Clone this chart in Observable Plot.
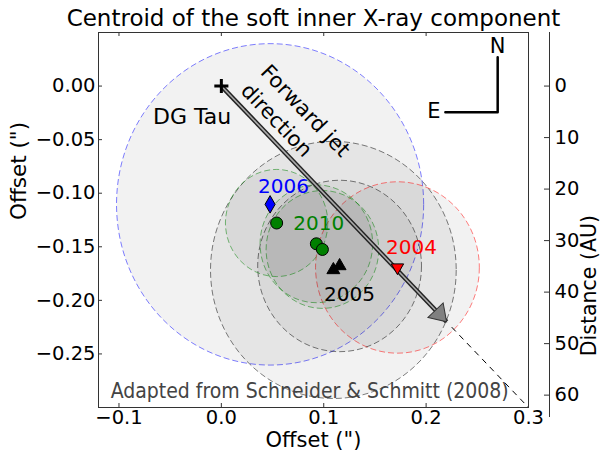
<!DOCTYPE html>
<html><head><meta charset="utf-8">
<script src="https://cdn.jsdelivr.net/npm/d3@7"></script>
<script src="https://cdn.jsdelivr.net/npm/@observablehq/plot@0.6"></script>
<style>body{margin:0;background:#fff;} #chart{width:603px;height:452px;}</style>
</head><body><div id="chart"></div>
<script>
// ---- text ----
const titleText = "Centroid of the soft inner X-ray component";
const xLabel = 'Offset (")';
const yLabel = 'Offset (")';
const y2Label = "Distance (AU)";
const creditText = "Adapted from Schneider & Schmitt (2008)";

// ---- ticks ----
const xTicks = [-0.1, 0, 0.1, 0.2, 0.3];
const yTicks = [0, -0.05, -0.10, -0.15, -0.20, -0.25];
const auTicks = [0, 10, 20, 30, 40, 50, 60];
const auPerArcsec = 208;

// ---- observations (centroid + uncertainty radius, arcsec) ----
const obsYear = ["2004", "2005", "2005", "2006", "2010", "2010", "2010"];
const obsX    = [0.172, 0.1094, 0.1155, 0.0476, 0.054, 0.0928, 0.0987];
const obsY    = [-0.1693, -0.1716, -0.1679, -0.1104, -0.1278, -0.1472, -0.1525];
const obsErr  = [0.08, 0.12, 0.08, 0.15, 0.05, 0.055, 0.055];
const yearColor = {"2004": "red", "2005": "black", "2006": "blue", "2010": "green"};

// ---- year labels ----
const labelYear = ["2004", "2005", "2006", "2010"];
const labelX = [0.1857, 0.1251, 0.0607, 0.0951];
const labelY = [-0.1512, -0.1948, -0.094, -0.1288];

// ---- star & jet ----
const starName = ["DG Tau"];
const starX = [0], starY = [0];
const starLabelX = [-0.0285], starLabelY = [-0.0287];
const jetStart = [0, 0];
const jetEnd = [0.22, -0.22];
const jetExtStart = [0.225, -0.225];
const jetExtEnd = [0.3, -0.3];
const jetText = ["Forward jet\ndirection"];
const jetTextX = [0.0338], jetTextY = [0.0091];

// ---- compass ----
const compassX = [0.2188, 0.2699, 0.2699];
const compassY = [-0.0244, -0.0244, 0.027];
const compassLabel = ["N", "E"];
const compassLabelX = [0.2699, 0.2075];
const compassLabelY = [0.0367, -0.0232];

// ---- layout ----
const W = 603, H = 452, mL = 98, mR = 75, mT = 32, mB = 45;
const xDomain = [-0.12, 0.3], yDomain = [-0.3, 0.05];
const frameW = W - mL - mR, frameH = H - mT - mB;
const kx = frameW / (xDomain[1] - xDomain[0]);
const ky = frameH / (yDomain[1] - yDomain[0]);
const aspect = ky / kx;
const jetAngle = Math.atan2(-(jetEnd[1] - jetStart[1]) * ky, (jetEnd[0] - jetStart[0]) * kx) * 180 / Math.PI;
const FONT = "DejaVu Sans";

// ellipse symbol (circle in data units, axes have slightly different px/unit)
const K = 0.5522847498;
const ellipseSymbol = {
  draw(ctx, size) {
    const rx = Math.sqrt(size / Math.PI), ry = rx * aspect;
    ctx.moveTo(rx, 0);
    ctx.bezierCurveTo(rx, ry * K, rx * K, ry, 0, ry);
    ctx.bezierCurveTo(-rx * K, ry, -rx, ry * K, -rx, 0);
    ctx.bezierCurveTo(-rx, -ry * K, -rx * K, -ry, 0, -ry);
    ctx.bezierCurveTo(rx * K, -ry, rx, -ry * K, rx, 0);
    ctx.closePath();
  }
};
// arrow head symbol with tip at origin, pointing +x
const headSymbol = {
  draw(ctx, size) {
    const s = Math.sqrt(size / Math.PI);
    ctx.moveTo(0, 0);
    ctx.lineTo(-1.6 * s, -1.05 * s);
    ctx.lineTo(-1.6 * s, 1.05 * s);
    ctx.closePath();
  }
};

const obsIdx = obsYear.map((_, i) => i);
const byYear = y => obsIdx.filter(i => obsYear[i] === y);

const chart = Plot.plot({
  width: W, height: H,
  marginLeft: mL, marginRight: mR, marginTop: mT, marginBottom: mB,
  x: {domain: xDomain},
  y: {domain: yDomain},
  r: {type: "linear", domain: [0, 1], range: [0, kx]},
  color: {type: "identity"},
  style: {fontFamily: FONT, fontSize: "19.5px", background: "white", color: "black"},
  marks: [
    // uncertainty circles
    Plot.dot(obsIdx, {
      x: i => obsX[i], y: i => obsY[i], r: i => obsErr[i],
      symbol: ellipseSymbol, fill: "black", fillOpacity: 0.05,
      stroke: i => yearColor[obsYear[i]], strokeOpacity: 0.5, strokeWidth: 1,
      strokeDasharray: "6,3", clip: true
    }),
    // jet extension (dashed)
    Plot.link([0], {x1: () => jetExtStart[0], y1: () => jetExtStart[1], x2: () => jetExtEnd[0], y2: () => jetExtEnd[1],
      stroke: "black", strokeWidth: 1, strokeDasharray: "6,5", clip: true}),
    // jet arrow shaft
    Plot.link([0], {x1: () => jetStart[0], y1: () => jetStart[1], x2: () => jetEnd[0], y2: () => jetEnd[1],
      stroke: "#222", strokeWidth: 4.5}),
    Plot.link([0], {x1: () => jetStart[0], y1: () => jetStart[1], x2: () => jetEnd[0], y2: () => jetEnd[1],
      stroke: "#aaa", strokeWidth: 1.6}),
    Plot.dot([0], {x: () => jetEnd[0], y: () => jetEnd[1], symbol: headSymbol, r: 10,
      fill: "#808080", stroke: "#333", strokeWidth: 1, rotate: jetAngle}),
    // DG Tau
    Plot.dot([0], {x: () => starX[0], y: () => starY[0], symbol: "plus", r: 4.6, stroke: "black", strokeWidth: 3}),
    // markers
    Plot.dot(byYear("2004"), {x: i => obsX[i], y: i => obsY[i], symbol: "triangle", r: 4.6, rotate: 180, fill: "red", stroke: "black", strokeWidth: 1}),
    Plot.dot(byYear("2005"), {x: i => obsX[i], y: i => obsY[i], symbol: "triangle", r: 4.8, fill: "black", stroke: "black", strokeWidth: 1}),
    Plot.dot(byYear("2006"), {x: i => obsX[i], y: i => obsY[i], symbol: "diamond", r: 5.3, fill: "blue", stroke: "black", strokeWidth: 1}),
    Plot.dot(byYear("2010"), {x: i => obsX[i], y: i => obsY[i], symbol: "circle", r: 6, fill: "green", stroke: "black", strokeWidth: 1}),
    // labels
    Plot.text(labelYear, {x: (d, i) => labelX[i], y: (d, i) => labelY[i], text: d => d,
      fill: d => yearColor[d], fontSize: 20}),
    Plot.text(starName, {x: (d, i) => starLabelX[i], y: (d, i) => starLabelY[i], text: d => d, fontSize: 22, fill: "black"}),
    Plot.text(jetText, {x: (d, i) => jetTextX[i], y: (d, i) => jetTextY[i], text: d => d, rotate: jetAngle,
      textAnchor: "start", lineHeight: 1.3, fontSize: 21, fill: "black"}),
    // compass
    Plot.line(compassX.map((x, i) => i), {x: i => compassX[i], y: i => compassY[i], stroke: "black", strokeWidth: 2.5, curve: "linear"}),
    Plot.text(compassLabel, {x: (d, i) => compassLabelX[i], y: (d, i) => compassLabelY[i], text: d => d, fontSize: 21, fill: "black"}),
    // credit
    Plot.text([creditText], {x: () => -0.1081, y: () => -0.2844, text: d => d, textAnchor: "start",
      fontFamily: "DejaVu Sans Condensed, DejaVu Sans", fontWeight: 200, fontSize: 21, fill: "#444"}),
    // inside ticks
    Plot.tickX(xTicks, {x: d => d, insetTop: frameH - 4, stroke: "#333"}),
    Plot.tickX(xTicks, {x: d => d, insetBottom: frameH - 4, stroke: "#333"}),
    Plot.tickY(yTicks, {y: d => d, insetRight: frameW - 4, stroke: "#333"}),
    // axes
    Plot.axisX({anchor: "bottom", ticks: xTicks, tickFormat: d3.format(".1f"), tickSize: 0, tickPadding: 3, fontSize: 19.5, label: null}),
    Plot.axisY({anchor: "left", ticks: yTicks, tickFormat: d3.format(".2f"), tickSize: 0, tickPadding: 3, fontSize: 19.5, label: null}),
    Plot.text([xLabel], {frameAnchor: "bottom", dy: 39.5, text: d => d, fontSize: 21, fill: "black"}),
    Plot.text([yLabel], {frameAnchor: "left", dx: -79, rotate: -90, text: d => d, fontSize: 21.5, fill: "black"}),
    // secondary distance axis
    Plot.ruleX([xDomain[1]], {x: d => d, dx: 21, insetBottom: -10, stroke: "#333"}),
    Plot.tickY(auTicks, {y: d => -d / auPerArcsec, dx: 21, insetLeft: frameW - 5, stroke: "#333"}),
    Plot.text(auTicks, {y: d => -d / auPerArcsec, frameAnchor: "right", dx: 26, textAnchor: "start", text: d => String(d), fontSize: 19.5, fill: "black"}),
    Plot.text([y2Label], {frameAnchor: "right", dx: 61, dy: -5, rotate: -90, text: d => d, fontSize: 20.5, fill: "black"}),
    // title
    Plot.text([titleText], {frameAnchor: "top", dy: -6.5, lineAnchor: "bottom", text: d => d, fontSize: 23, fill: "black"}),
    Plot.frame({stroke: "#333"})
  ]
});
document.getElementById("chart").appendChild(chart);
</script>
</body></html>
